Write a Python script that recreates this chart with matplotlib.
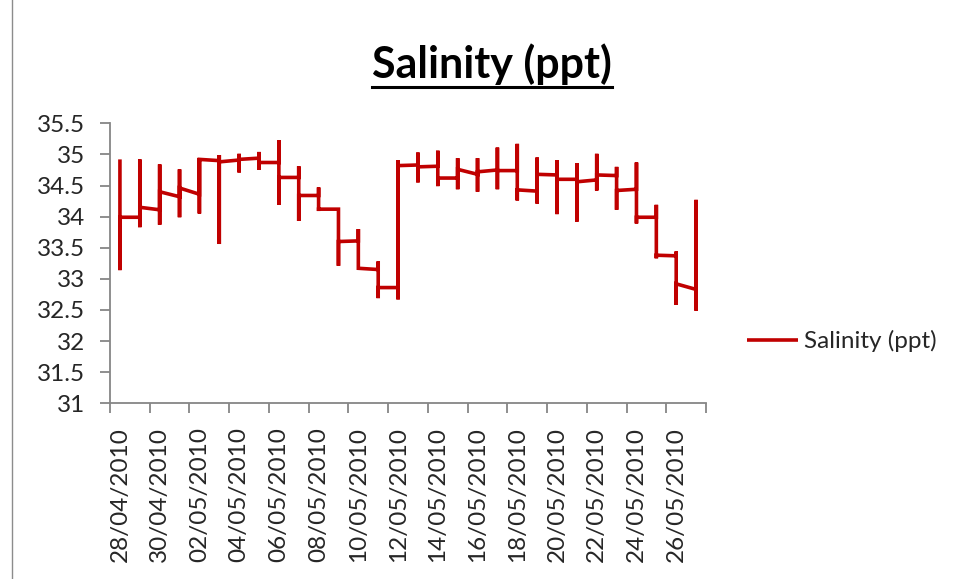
import numpy as np
import pandas as pd
import matplotlib
matplotlib.use("Agg")
import matplotlib.pyplot as plt
import matplotlib.dates as mdates
from matplotlib.lines import Line2D

# ---- data (per day: first reading, max, min, last reading) ----
dates = pd.date_range("2010-04-28", periods=30, freq="D")
first_val = [34.92, 33.99, 34.11, 34.32, 34.36, 34.90, 34.91, 34.94, 34.87, 34.63,
             34.34, 34.12, 33.61, 33.15, 32.86, 34.83, 34.81, 34.62, 34.68, 34.75,
             34.74, 34.41, 34.67, 34.60, 34.59, 34.66, 34.44, 33.99, 33.37, 32.83]
high_val = [34.92, 34.92, 34.84, 34.76, 34.94, 34.99, 35.01, 35.04, 35.23, 34.81,
            34.47, 34.12, 33.80, 33.28, 34.91, 35.03, 35.06, 34.94, 34.94, 35.11,
            35.17, 34.95, 34.91, 34.86, 35.01, 34.80, 34.87, 34.19, 33.44, 34.27]
low_val = [33.14, 33.83, 33.87, 33.99, 34.05, 33.56, 34.71, 34.75, 34.19, 33.93,
           34.09, 33.21, 33.17, 32.69, 32.67, 34.55, 34.49, 34.44, 34.40, 34.44,
           34.26, 34.21, 34.04, 33.92, 34.42, 34.11, 33.89, 33.33, 32.58, 32.49]
last_val = [33.99, 34.15, 34.40, 34.46, 34.92, 34.88, 34.92, 34.87, 34.63, 34.34,
            34.12, 33.60, 33.17, 32.86, 34.82, 34.80, 34.62, 34.76, 34.72, 34.74,
            34.43, 34.68, 34.60, 34.56, 34.67, 34.42, 33.99, 33.38, 32.92, 32.83]
series_name = "Salinity (ppt)"
title = "Salinity (ppt)"
y_ticks = [31, 31.5, 32, 32.5, 33, 33.5, 34, 34.5, 35, 35.5]

FONT = ["Lato", "DejaVu Sans"]
plt.rcParams["font.family"] = FONT
RED = "#C00000"
GREY = "#868686"
TXT = "#262626"
FS = 17.5

fig = plt.figure(figsize=(9.58, 5.79), dpi=100)
ax = fig.add_axes([110/958, 1-403.3/579, (706-110)/958, (403.3-123.3)/579])

# x: centre of each day
xnum = mdates.date2num(dates.to_pydatetime()) + 0.5
xs = np.repeat(xnum, 4)
ys = np.column_stack([first_val, high_val, low_val, last_val]).ravel()
ax.plot(xs, ys, color=RED, lw=2.6, solid_joinstyle="miter", solid_capstyle="butt",
        label=series_name)

# axes limits
x0 = mdates.date2num(dates[0].to_pydatetime())
ax.set_xlim(x0, x0 + len(dates))
ax.set_ylim(31, 35.5)
ax.set_yticks(y_ticks)
ax.set_yticklabels([f"{v:g}" for v in y_ticks])

# x ticks: marks at day boundaries every 2 days, labels at day centres
major = [x0 + i for i in range(0, len(dates) + 1, 2)]
ax.set_xticks(major)
ax.set_xticklabels([""] * len(major))
minor = [xnum[i] for i in range(0, len(dates), 2)]
ax.set_xticks(minor, minor=True)
ax.set_xticklabels([dates[i].strftime("%d/%m/%Y") for i in range(0, len(dates), 2)],
                   minor=True, rotation=90, fontsize=FS, color=TXT)
ax.tick_params(axis="x", which="minor", length=0, pad=17)
ax.tick_params(axis="x", which="major", length=7, width=1.3, color=GREY, direction="out")
ax.tick_params(axis="y", length=7, width=1.3, color=GREY, direction="out",
               labelsize=FS, labelcolor=TXT, pad=11)

for s in ["top", "right"]:
    ax.spines[s].set_visible(False)
for s in ["left", "bottom"]:
    ax.spines[s].set_color(GREY)
    ax.spines[s].set_linewidth(1.3)

# title with underline
t = fig.text(492/958, 1-64/579, title, ha="center", va="center",
             fontsize=31, fontweight="bold", color="black")
fig.canvas.draw()
bb = t.get_window_extent()
uy = (bb.y0 - 2) / fig.bbox.height
fig.add_artist(Line2D([bb.x0 / fig.bbox.width, bb.x1 / fig.bbox.width], [uy, uy],
                      color="black", lw=2.2, transform=fig.transFigure))

# chart-area border (left edge visible in the screenshot)
fig.add_artist(Line2D([12/958, 12/958], [0, 1], color="#8C8C8C", lw=1.0,
                      transform=fig.transFigure))

# legend
fig.legend(loc="center left", bbox_to_anchor=(747/958, 1-341/579), frameon=False,
           handlelength=2.1, handletextpad=0.25, borderpad=0, borderaxespad=0,
           fontsize=FS, labelcolor=TXT)

fig.savefig("out.png", dpi=100)
